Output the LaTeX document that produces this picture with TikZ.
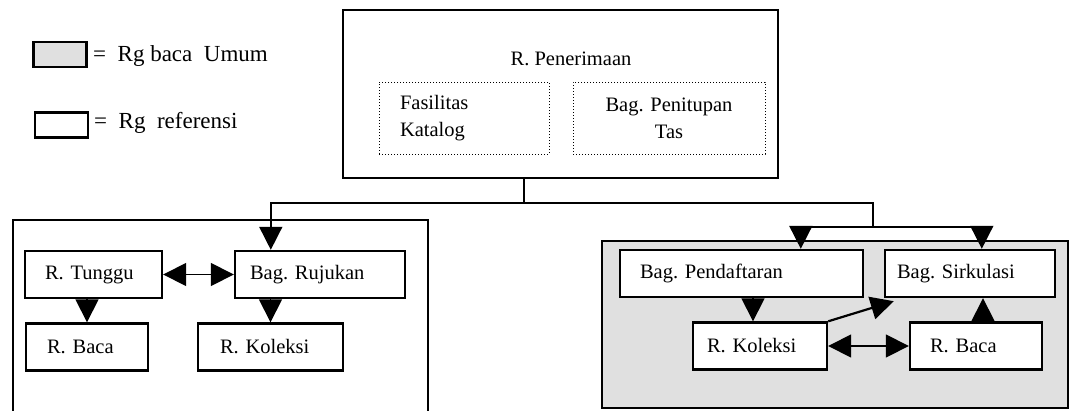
\documentclass[tikz,border=0pt]{standalone}
\usepackage{fontspec}
\setmainfont{Liberation Serif}
\usetikzlibrary{positioning, calc, arrows.meta}
\colorlet{shadegray}{black!12}
\frenchspacing

\begin{document}
\begin{tikzpicture}[x=1pt, y=-1pt,
    font=\fontsize{20.5}{27}\selectfont,
    zone/.style={draw, line width=2.2pt, inner sep=0pt},
    room/.style 2 args={draw, line width=2.4pt, fill=white, minimum height=47pt,
        text width=#1pt, inner xsep=#2pt, align=left},
    desk/.style={draw, dotted, line width=1pt, minimum height=72pt},
    key/.style={draw, line width=2.2pt, minimum width=53pt, minimum height=25pt},
    keytext/.style={anchor=base west, inner sep=0pt, font=\fontsize{23}{28}\selectfont},
    link/.style={line width=1.6pt},
    arr/.style={link, -{Triangle[length=23pt, width=23pt]}},
    twoway/.style={link, {Triangle[length=23pt, width=23pt]}-{Triangle[length=23pt, width=23pt]}}]

    \path[use as bounding box] (0,0) rectangle (1071,410);
    \clip (0,0) rectangle (1071,410);

    % legend
    \node[key, fill=shadegray] (keyUmum) at (60,54.5) {};
    \node[keytext] (txtUmum) at (93,61) {=\enspace Rg baca\ \ Umum};
    \node[key] (keyRef) at (61.5,125) {};
    \node[keytext] (txtRef) at (94,128) {=\enspace Rg\ \ referensi};

    % reception
    \node[zone, minimum width=435pt, minimum height=168pt] (terima) at (560.5,94) {};
    \node[anchor=base] (judul) at (571,65) {R. Penerimaan};
    \node[desk, text width=128pt, inner xsep=21pt, align=left] (katalog) at (464,118)
        {Fasilitas\\Katalog};
    \node[desk, text width=172pt, inner xsep=10pt, align=center] (titip) at (669,118)
        {Bag. Penitupan\\Tas};

    % reference rooms
    \node[zone, minimum width=415pt, minimum height=220pt] (zonaRef) at (220.5,330) {};
    \node[room={97}{20}] (tunggu) at (93.5,274.5) {R. Tunggu};
    \node[room={140}{15}] (rujukan) at (320,274.5) {Bag. Rujukan};
    \node[room={80}{21}] (bacaA) at (87,347) {R. Baca};
    \node[room={101}{22}] (koleksiA) at (270.5,347) {R. Koleksi};

    % general reading rooms
    \node[zone, fill=shadegray, minimum width=466pt, minimum height=167pt] (zonaUmum) at (835,324.5) {};
    \node[room={203}{20}] (daftar) at (741.5,273.5) {Bag. Pendaftaran};
    \node[room={146}{12}] (sirkulasi) at (970,273.5) {Bag. Sirkulasi};
    \node[room={106}{14}] (koleksiB) at (760,346) {R. Koleksi};
    \node[room={92}{20}] (bacaB) at (976,346) {R. Baca};

    % feed from reception
    \coordinate (split) at (524,203);
    \coordinate (fork) at (873,227);
    \draw[link] (terima.south -| split) -- (split);
    \draw[arr] (split) -| ($(rujukan.north west)+(37,0)$);
    \draw[link] (split) -| (fork);
    \draw[arr] (fork) -| ($(daftar.north west)+(182,0)$);
    \draw[arr] (fork) -| ($(sirkulasi.north west)+(98,0)$);

    % flows inside reference
    \draw[twoway] (tunggu) -- (rujukan);
    \draw[arr] (tunggu.south -| bacaA.north) -- (bacaA.north);
    \draw[arr] (rujukan.south -| koleksiA.north) -- (koleksiA.north);

    % flows inside general
    \draw[arr] ($(daftar.south -| koleksiB.north)+(-7,0)$) -- ($(koleksiB.north)+(-7,0)$);
    \draw[arr, line width=2.2pt] (koleksiB.north east) -- ($(sirkulasi.south west)+(10,3)$);
    \draw[arr] ($(bacaB.north)+(7,0)$) -- ($(bacaB.north |- sirkulasi.south)+(7,0)$);
    \draw[twoway] (koleksiB) -- (bacaB);
\end{tikzpicture}
\end{document}
